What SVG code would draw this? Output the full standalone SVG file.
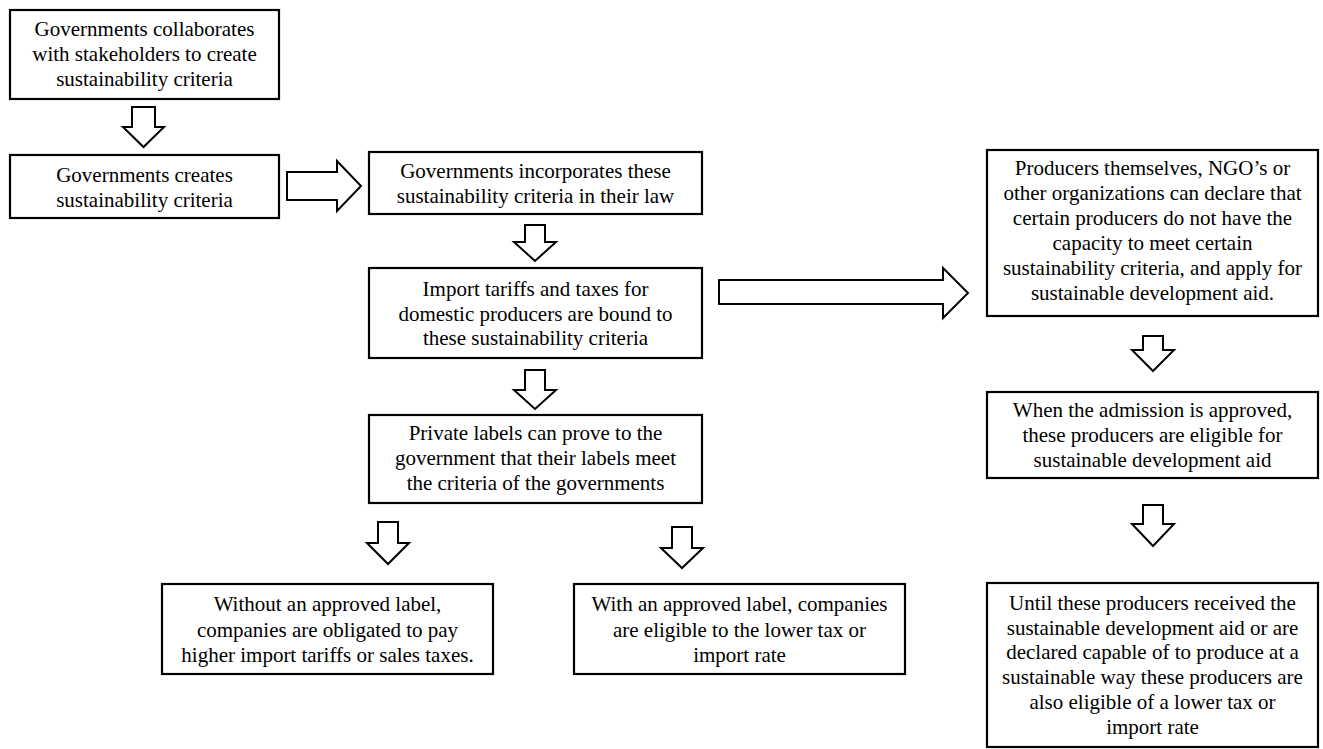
<svg xmlns="http://www.w3.org/2000/svg" width="1323" height="749" viewBox="0 0 1323 749">
<style>
.box{fill:#fff;stroke:#000;stroke-width:2.2}
.arr{fill:#fff;stroke:#000;stroke-width:2;stroke-linejoin:miter}
text{font-family:"Liberation Serif","Times New Roman",serif;font-size:21px;fill:#000;text-anchor:middle}
</style>
<rect width="1323" height="749" fill="#fff"/>
<g id="connectors">
<path class="arr" d="M132,107 H155 V127 H164 L143.5,147 L123,127 H132 Z"/>
<path class="arr" d="M287,172 H337 V161 L361,186 L337,211 V200 H287 Z"/>
<path class="arr" d="M525,225 H545 V242 H556 L535,261 L514,242 H525 Z"/>
<path class="arr" d="M525,370 H545 V390 H556 L535,409 L514,390 H525 Z"/>
<path class="arr" d="M378,522 H398 V543 H409 L388,564 L367,543 H378 Z"/>
<path class="arr" d="M672,527 H692 V548 H703 L682,568 L661,548 H672 Z"/>
<path class="arr" d="M719,280 H943 V268 L968,293 L943,318 V304 H719 Z"/>
<path class="arr" d="M1143,336 H1163 V350 H1174 L1153,371 L1132,350 H1143 Z"/>
<path class="arr" d="M1143,505 H1163 V524 H1174 L1153,546 L1132,524 H1143 Z"/>
</g>
<g id="n1">
<rect class="box" x="10" y="10" width="269" height="89"/>
<text x="144.5" y="36">Governments collaborates</text>
<text x="144.5" y="61">with stakeholders to create</text>
<text x="144.5" y="86">sustainability criteria</text>
</g>
<g id="n2">
<rect class="box" x="10" y="155" width="269" height="63"/>
<text x="144.5" y="182">Governments creates</text>
<text x="144.5" y="207">sustainability criteria</text>
</g>
<g id="n3">
<rect class="box" x="369" y="152" width="333" height="62"/>
<text x="535.5" y="178">Governments incorporates these</text>
<text x="535.5" y="203">sustainability criteria in their law</text>
</g>
<g id="n4">
<rect class="box" x="369" y="268" width="333" height="90"/>
<text x="535.5" y="296">Import tariffs and taxes for</text>
<text x="535.5" y="321">domestic producers are bound to</text>
<text x="535.5" y="345">these sustainability criteria</text>
</g>
<g id="n5">
<rect class="box" x="369" y="415" width="333" height="88"/>
<text x="535.5" y="440">Private labels can prove to the</text>
<text x="535.5" y="465">government that their labels meet</text>
<text x="535.5" y="490">the criteria of the governments</text>
</g>
<g id="n6">
<rect class="box" x="162" y="584" width="331" height="90"/>
<text x="327.5" y="611">Without an approved label,</text>
<text x="327.5" y="637">companies are obligated to pay</text>
<text x="327.5" y="662">higher import tariffs or sales taxes.</text>
</g>
<g id="n7">
<rect class="box" x="574" y="584" width="331" height="90"/>
<text x="739.5" y="611">With an approved label, companies</text>
<text x="739.5" y="637">are eligible to the lower tax or</text>
<text x="739.5" y="662">import rate</text>
</g>
<g id="n8">
<rect class="box" x="987" y="150" width="331" height="166"/>
<text x="1152.5" y="175">Producers themselves, NGO’s or</text>
<text x="1152.5" y="200">other organizations can declare that</text>
<text x="1152.5" y="225">certain producers do not have the</text>
<text x="1152.5" y="250">capacity to meet certain</text>
<text x="1152.5" y="275">sustainability criteria, and apply for</text>
<text x="1152.5" y="300">sustainable development aid.</text>
</g>
<g id="n9">
<rect class="box" x="987" y="392" width="331" height="86"/>
<text x="1152.5" y="417">When the admission is approved,</text>
<text x="1152.5" y="442">these producers are eligible for</text>
<text x="1152.5" y="467">sustainable development aid</text>
</g>
<g id="n10">
<rect class="box" x="987" y="583" width="331" height="164"/>
<text x="1152.5" y="610">Until these producers received the</text>
<text x="1152.5" y="635">sustainable development aid or are</text>
<text x="1152.5" y="659">declared capable of to produce at a</text>
<text x="1152.5" y="684">sustainable way these producers are</text>
<text x="1152.5" y="709">also eligible of a lower tax or</text>
<text x="1152.5" y="734">import rate</text>
</g>
</svg>
